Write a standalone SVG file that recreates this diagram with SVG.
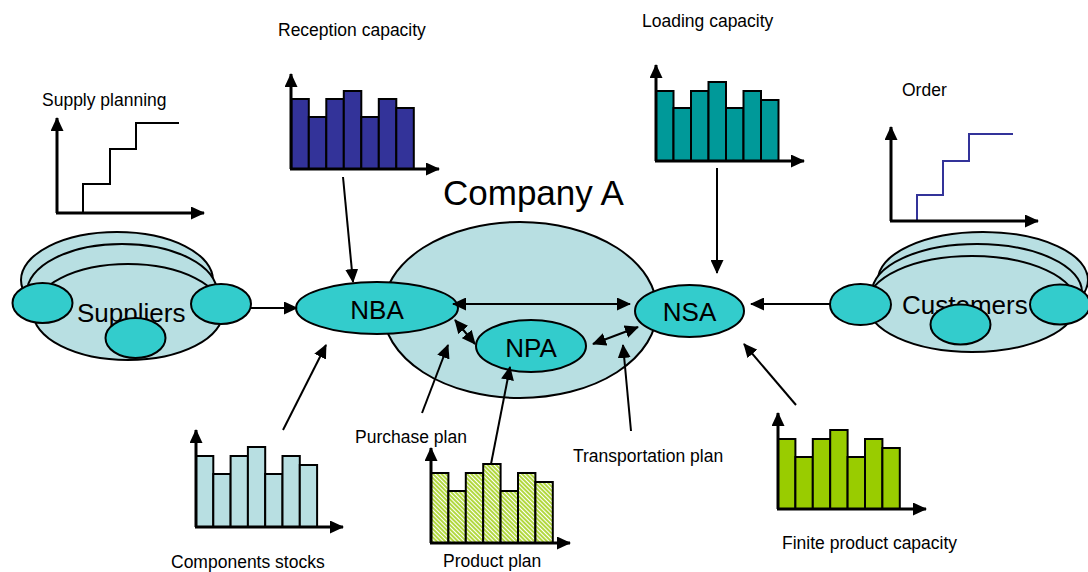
<svg xmlns="http://www.w3.org/2000/svg" width="1088" height="572" viewBox="0 0 1088 572">
<style>
text{font-family:"Liberation Sans",Arial,sans-serif;fill:#000}
.lbl{font-size:17.5px}
.big{font-size:26px}
.bg{fill:#b8dfe2;stroke:#000;stroke-width:2}
.nd{fill:#33cccc;stroke:#000;stroke-width:2}
.ax{stroke:#000;stroke-width:3;fill:none;marker-end:url(#ah)}
.bar{stroke:#000;stroke-width:2}
.cn{stroke:#000;stroke-width:2;fill:none;marker-end:url(#ah)}
.dbl{marker-start:url(#ah)}
.step{fill:none;stroke-width:2}
</style>
<defs>
<marker id="ah" markerUnits="userSpaceOnUse" markerWidth="14" markerHeight="13" refX="13" refY="6.5" orient="auto-start-reverse">
<path d="M0,0 L14,6.5 L0,13 z" fill="#000"/>
</marker>
<pattern id="hatch" patternUnits="userSpaceOnUse" width="3" height="3" patternTransform="rotate(-45)">
<rect width="3" height="3" fill="#fff"/>
<line x1="1" y1="0" x2="1" y2="3" stroke="#99cc00" stroke-width="1.5"/>
</pattern>
</defs>

<g id="company-a">
<ellipse class="bg" cx="520" cy="310" rx="137" ry="88"/>
<text x="443" y="205" style="font-size:35px">Company A</text>
</g>

<g id="suppliers">
<ellipse class="bg" cx="117" cy="280" rx="96" ry="48"/>
<ellipse class="bg" cx="122" cy="292" rx="95" ry="48"/>
<ellipse class="bg" cx="128" cy="312" rx="95" ry="48"/>
<text class="big" x="77" y="322">Suppliers</text>
<ellipse class="nd" cx="42.5" cy="303" rx="30" ry="20"/>
<ellipse class="nd" cx="221" cy="304" rx="30" ry="20"/>
<ellipse class="nd" cx="135.5" cy="338" rx="30" ry="20"/>
</g>

<g id="customers">
<ellipse class="bg" cx="983" cy="280" rx="105" ry="48"/>
<ellipse class="bg" cx="977" cy="292" rx="105" ry="48"/>
<ellipse class="bg" cx="972" cy="304" rx="105" ry="48"/>
<text class="big" x="902" y="314">Customers</text>
<ellipse class="nd" cx="860.5" cy="304.5" rx="30.5" ry="20.5"/>
<ellipse class="nd" cx="1060" cy="304.5" rx="30" ry="20"/>
<ellipse class="nd" cx="960.5" cy="324.5" rx="30" ry="20"/>
</g>

<g id="nba">
<ellipse class="nd" cx="377" cy="308" rx="81" ry="26"/>
<text class="big" x="377" y="319" text-anchor="middle">NBA</text>
</g>
<g id="npa">
<ellipse class="nd" cx="531" cy="346" rx="55" ry="26"/>
<text class="big" x="531" y="357" text-anchor="middle">NPA</text>
</g>
<g id="nsa">
<ellipse class="nd" cx="689.5" cy="311" rx="54.5" ry="26"/>
<text class="big" x="689.5" y="321" text-anchor="middle">NSA</text>
</g>

<g id="supply-planning">
<text class="lbl" x="42" y="106">Supply planning</text>
<polyline class="step" stroke="#000" points="83,213 83,184 110,184 110,149 136,149 136,123 179,123"/>
<line class="ax" x1="57" y1="213" x2="57" y2="118"/>
<line class="ax" x1="56" y1="213" x2="204" y2="213"/>
</g>

<g id="reception-capacity">
<text class="lbl" x="278" y="36">Reception capacity</text>
<g fill="#333399">
<rect class="bar" x="291.3" y="99" width="17.5" height="70"/>
<rect class="bar" x="308.8" y="117" width="17.5" height="52"/>
<rect class="bar" x="326.3" y="99" width="17.5" height="70"/>
<rect class="bar" x="343.8" y="91" width="17.5" height="78"/>
<rect class="bar" x="361.3" y="117" width="17.5" height="52"/>
<rect class="bar" x="378.8" y="99" width="17.5" height="70"/>
<rect class="bar" x="396.3" y="108" width="17.5" height="61"/>
</g>
<line class="ax" x1="291" y1="169" x2="291" y2="74"/>
<line class="ax" x1="290" y1="169" x2="439" y2="169"/>
</g>

<g id="loading-capacity">
<text class="lbl" x="642" y="27">Loading capacity</text>
<g fill="#009999">
<rect class="bar" x="656" y="91" width="17.5" height="70"/>
<rect class="bar" x="673.5" y="108" width="17.5" height="53"/>
<rect class="bar" x="691" y="91" width="17.5" height="70"/>
<rect class="bar" x="708.5" y="82" width="17.5" height="79"/>
<rect class="bar" x="726" y="108" width="17.5" height="53"/>
<rect class="bar" x="743.5" y="91" width="17.5" height="70"/>
<rect class="bar" x="761" y="100" width="17.5" height="61"/>
</g>
<line class="ax" x1="656" y1="161" x2="656" y2="65"/>
<line class="ax" x1="655" y1="161" x2="804" y2="161"/>
</g>

<g id="order">
<text class="lbl" x="902" y="96">Order</text>
<polyline class="step" stroke="#333399" points="917,221 917,195 943,195 943,161 969,161 969,134 1013,134"/>
<line class="ax" x1="891" y1="221" x2="891" y2="127"/>
<line class="ax" x1="890" y1="221" x2="1038" y2="221"/>
</g>

<g id="components-stocks">
<g fill="#b8dfe2">
<rect class="bar" x="196" y="456" width="17.3" height="71"/>
<rect class="bar" x="213.3" y="474" width="17.3" height="53"/>
<rect class="bar" x="230.6" y="456" width="17.3" height="71"/>
<rect class="bar" x="247.9" y="447" width="17.3" height="80"/>
<rect class="bar" x="265.2" y="474" width="17.3" height="53"/>
<rect class="bar" x="282.5" y="456" width="17.3" height="71"/>
<rect class="bar" x="299.8" y="465" width="17.3" height="62"/>
</g>
<line class="ax" x1="196" y1="527" x2="196" y2="430"/>
<line class="ax" x1="195" y1="527" x2="343" y2="527"/>
<text class="lbl" x="171" y="568">Components stocks</text>
</g>

<g id="product-plan">
<g fill="url(#hatch)">
<rect class="bar" x="431" y="473" width="17.4" height="70"/>
<rect class="bar" x="448.4" y="491" width="17.4" height="52"/>
<rect class="bar" x="465.8" y="473" width="17.4" height="70"/>
<rect class="bar" x="483.2" y="464" width="17.4" height="79"/>
<rect class="bar" x="500.6" y="491" width="17.4" height="52"/>
<rect class="bar" x="518" y="473" width="17.4" height="70"/>
<rect class="bar" x="535.4" y="482" width="17.4" height="61"/>
</g>
<line class="ax" x1="431" y1="543" x2="431" y2="448"/>
<line class="ax" x1="430" y1="543" x2="570" y2="543"/>
<text class="lbl" x="443" y="567">Product plan</text>
</g>

<g id="finite-product-capacity">
<g fill="#99cc00">
<rect class="bar" x="778" y="439" width="17.4" height="70"/>
<rect class="bar" x="795.4" y="457" width="17.4" height="52"/>
<rect class="bar" x="812.8" y="439" width="17.4" height="70"/>
<rect class="bar" x="830.2" y="430" width="17.4" height="79"/>
<rect class="bar" x="847.6" y="457" width="17.4" height="52"/>
<rect class="bar" x="865" y="439" width="17.4" height="70"/>
<rect class="bar" x="882.4" y="448" width="17.4" height="61"/>
</g>
<line class="ax" x1="778" y1="509" x2="778" y2="413"/>
<line class="ax" x1="777" y1="509" x2="926" y2="509"/>
<text class="lbl" x="782" y="549">Finite product capacity</text>
</g>

<g id="purchase-plan">
<text class="lbl" x="355" y="443">Purchase plan</text>
</g>
<g id="transportation-plan">
<text class="lbl" x="573" y="462">Transportation plan</text>
</g>

<g id="connectors">
<line class="cn" x1="251" y1="308" x2="297" y2="308"/>
<line class="cn" x1="343" y1="177" x2="353" y2="282"/>
<line class="cn" x1="283" y1="430" x2="326" y2="345"/>
<line class="cn dbl" x1="453" y1="304" x2="630" y2="304"/>
<line class="cn dbl" x1="455" y1="320" x2="475" y2="344"/>
<line class="cn dbl" x1="593" y1="344" x2="638" y2="327"/>
<line class="cn" x1="422" y1="413" x2="448" y2="345"/>
<line class="cn" x1="491" y1="464" x2="510" y2="367"/>
<line class="cn" x1="631" y1="431" x2="623" y2="345"/>
<line class="cn" x1="717" y1="168" x2="717" y2="273"/>
<line class="cn" x1="830" y1="304" x2="751" y2="304"/>
<line class="cn" x1="796" y1="405" x2="744" y2="344"/>
</g>
</svg>
